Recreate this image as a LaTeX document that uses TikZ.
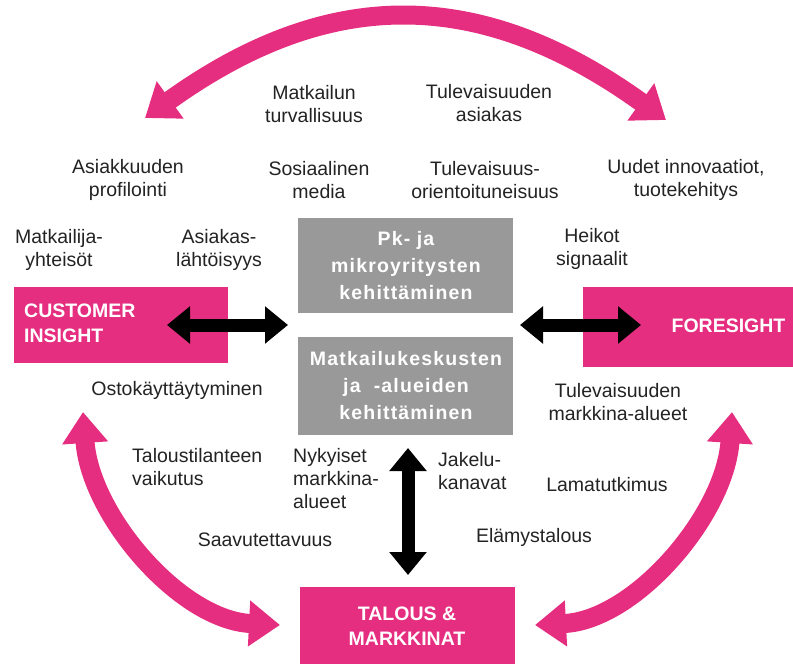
\documentclass[tikz,border=0pt]{standalone}
\usepackage{fontspec}
\setmainfont{Liberation Sans}
\newfontfamily\boxfont{Liberation Sans}[LetterSpace=6]
\usetikzlibrary{arrows.meta}
\definecolor{pinkc}{RGB}{230,46,128}
\definecolor{grayc}{RGB}{153,153,153}
\definecolor{txtc}{RGB}{35,35,35}
\begin{document}
\begin{tikzpicture}[x=1pt,y=-1pt,
  lbl/.style={font=\fontsize{19.5}{23}\selectfont, text=txtc, align=center, inner sep=0pt},
  lbll/.style={lbl, align=left},
  pinkbox/.style={fill=pinkc, draw=none, inner sep=0pt},
  graybox/.style={fill=grayc, draw=none, inner sep=0pt},
  boxtxt/.style={text=white, font=\fontsize{19.5}{25}\selectfont\bfseries, inner sep=0pt},
  graytxt/.style={text=white, font=\boxfont\fontsize{19.5}{27}\selectfont\bfseries, align=center, inner sep=0pt},
  bigarrow/.style={draw=pinkc, line width=19pt, {Triangle[length=31pt,width=44pt]}-{Triangle[length=31pt,width=44pt]}},
  blackarrow/.style={draw=black, line width=13pt, {Triangle[length=23pt,width=36pt]}-{Triangle[length=23pt,width=36pt]}}
]
\useasboundingbox (0,0) rectangle (793,664);

% boxes
\node[pinkbox, minimum width=214pt, minimum height=76pt] (ci) at (121,325) {};
\node[pinkbox, minimum width=210pt, minimum height=80pt] (fs) at (688,327) {};
\node[pinkbox, minimum width=215pt, minimum height=77pt] (tm) at (407.5,625.5) {};
\node[graybox, minimum width=215pt, minimum height=95pt] (pk) at (405.5,265.5) {};
\node[graybox, minimum width=215pt, minimum height=98pt] (mk) at (405.5,386) {};

\node[boxtxt, align=left, anchor=west] (cit) at (24,323) {CUSTOMER\\INSIGHT};
\node[boxtxt] (fst) at (728.5,326) {FORESIGHT};
\node[boxtxt, align=center] (tmt) at (407,626) {TALOUS \&\\MARKKINAT};
\node[graytxt] (pkt) at (406,266) {Pk- ja\\mikroyritysten\\kehittäminen};
\node[graytxt] (mkt) at (406,386) {Matkailukeskusten\\ja \ -alueiden\\kehittäminen};

% arrow end points
\coordinate (tl) at (145,118);
\coordinate (tr) at (666,120);
\coordinate (la) at (83,412);
\coordinate (lb) at (280,625);
\coordinate (ra) at (732,412);
\coordinate (rb) at (535,625);
\coordinate (bl1) at (167,325);
\coordinate (bl2) at (288,325);
\coordinate (br1) at (520,325);
\coordinate (br2) at (641,325);
\coordinate (bv1) at (408,448);
\coordinate (bv2) at (408,575);

% pink curved arrows
\draw[bigarrow] (tl) .. controls (330,-15) and (481,-13) .. (tr);
\draw[bigarrow] (la) .. controls (90,515) and (180,620) .. (lb);
\draw[bigarrow] (ra) .. controls (725,515) and (635,620) .. (rb);

% black arrows
\draw[blackarrow] (bl1) -- (bl2);
\draw[blackarrow] (br1) -- (br2);
\draw[blackarrow] (bv1) -- (bv2);

% labels
\node[lbl] (l1) at (314,104) {Matkailun\\turvallisuus};
\node[lbl] (l2) at (489,103) {Tulevaisuuden\\asiakas};
\node[lbl] (l3) at (128,180) {Asiakkuuden\\profilointi};
\node[lbl] (l4) at (319,180) {Sosiaalinen\\media};
\node[lbl] (l5) at (485,180) {Tulevaisuus-\\orientoituneisuus};
\node[lbl] (l6) at (686,180) {Uudet innovaatiot,\\tuotekehitys};
\node[lbl] (l7) at (59,250) {Matkailija-\\yhteisöt};
\node[lbl] (l8) at (219,250) {Asiakas-\\lähtöisyys};
\node[lbl] (l9) at (592,249) {Heikot\\signaalit};
\node[lbl] (l10) at (177,390) {Ostokäyttäytyminen};
\node[lbl] (l11) at (618,402) {Tulevaisuuden\\markkina-alueet};
\node[lbll, anchor=west] (l12) at (132,467) {Taloustilanteen\\vaikutus};
\node[lbll, anchor=west] (l13) at (293,479) {Nykyiset\\markkina-\\alueet};
\node[lbl] (l14) at (265,540) {Saavutettavuus};
\node[lbll, anchor=west] (l15) at (438,471) {Jakelu-\\kanavat};
\node[lbl] (l16) at (607,485) {Lamatutkimus};
\node[lbl] (l17) at (534,537) {Elämystalous};
\end{tikzpicture}
\end{document}
